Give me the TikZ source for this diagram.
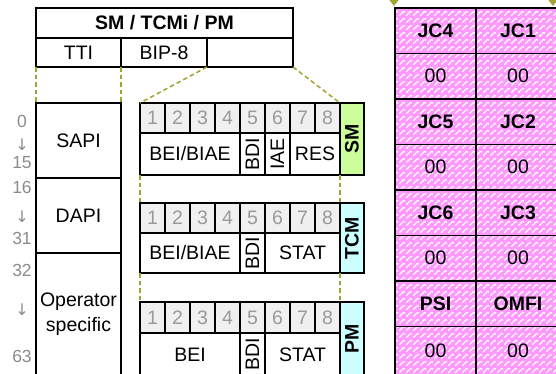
\documentclass[tikz,border=0pt]{standalone}
\usepackage{fontspec}
\setmainfont{Liberation Sans}
\newfontfamily\arrowfont{DejaVu Sans}
\usetikzlibrary{patterns}
\definecolor{linkolive}{HTML}{A3A332}
\definecolor{jcpink}{HTML}{FF99FF}
\definecolor{smgreen}{HTML}{CCFF99}
\definecolor{pmcyan}{HTML}{CCFFFF}
\definecolor{numgray}{HTML}{F0F0F0}
\definecolor{numtext}{HTML}{9A9A9A}
\definecolor{lefttext}{HTML}{8C8C8C}
\pgfdeclarepatternformonly{jcweave}{\pgfqpoint{-1pt}{-1pt}}{\pgfqpoint{8pt}{8pt}}{\pgfqpoint{7pt}{7pt}}{%
  \pgfsetlinewidth{1.1pt}%
  \pgfpathmoveto{\pgfqpoint{0.3pt}{0.3pt}}%
  \pgfpathlineto{\pgfqpoint{4.8pt}{4.8pt}}%
  \pgfpathmoveto{\pgfqpoint{4.8pt}{4.8pt}}%
  \pgfpathlineto{\pgfqpoint{6.0pt}{3.6pt}}%
  \pgfusepath{stroke}%
}
\newcommand\cellbox[7]{%
  \node[#6, minimum width={((#4)-(#2))*1pt}, minimum height={((#5)-(#3))*1pt}]
    (#1) at ({((#2)+(#4))/2},{((#3)+(#5))/2}) {#7};}
\begin{document}
\begin{tikzpicture}[x=1pt,y=-1pt,
  cell/.style={draw=black, line width=1.4pt, inner sep=0pt, outer sep=0pt,
    align=center, font=\fontsize{19.5}{25}\selectfont},
  boldcell/.style={cell, font=\fontsize{19.5}{25}\selectfont\bfseries},
  numcell/.style={cell, fill=numgray, text=numtext},
  smlabel/.style={boldcell, fill=smgreen},
  pmlabel/.style={boldcell, fill=pmcyan},
  jccell/.style={cell, preaction={fill=jcpink}, pattern=jcweave, pattern color=white},
  jcbold/.style={jccell, font=\fontsize{19.5}{25}\selectfont\bfseries},
  lnum/.style={inner sep=0pt, text=lefttext, font=\fontsize{17.5}{20}\selectfont},
  larrow/.style={inner sep=0pt, text=lefttext, font=\arrowfont\fontsize{16}{18}\selectfont},
  link/.style={draw=linkolive, line width=1.5pt, dash pattern=on 4.5pt off 3pt}]
\useasboundingbox (0,0) rectangle (556,373);
\fill[white] (0,0) rectangle (556,373);
% top header
\cellbox{title}{36}{8}{293}{38}{boldcell}{SM / TCMi / PM}
\cellbox{tti}{36}{38}{121}{67}{cell}{TTI}
\cellbox{bip}{121}{38}{207}{67}{cell}{BIP-8}
\cellbox{rsv}{207}{38}{293}{67}{cell}{}
% left column
\cellbox{sapi}{36}{103}{121}{178}{cell}{SAPI}
\cellbox{dapi}{36}{178}{121}{253}{cell}{DAPI}
\cellbox{opsp}{36}{253}{121}{376}{cell}{Operator\\specific}
\node[lnum] (l0) at (22,121) {0};
\node[larrow] (la1) at (22,145) {↓};
\node[lnum] (l15) at (22,163) {15};
\node[lnum] (l16) at (22,187) {16};
\node[larrow] (la2) at (22,217) {↓};
\node[lnum] (l31) at (22,238) {31};
\node[lnum] (l32) at (22,270) {32};
\node[larrow] (la3) at (22,310) {↓};
\node[lnum] (l63) at (22,356) {63};
% SM block
\foreach \k in {1,...,8} {\cellbox{sm\k}{140+25*(\k-1)}{103}{140+25*\k}{133}{numcell}{\k}}
\cellbox{smbei}{140}{133}{240}{175}{cell}{BEI/BIAE}
\cellbox{smbdi}{240}{133}{265}{175}{cell}{\rotatebox{90}{BDI}}
\cellbox{smiae}{265}{133}{290}{175}{cell}{\rotatebox{90}{IAE}}
\cellbox{smres}{290}{133}{340}{175}{cell}{RES}
\cellbox{smlab}{340}{103}{364}{175}{smlabel}{\rotatebox{90}{SM}}
% TCM block
\foreach \k in {1,...,8} {\cellbox{tcm\k}{140+25*(\k-1)}{203}{140+25*\k}{233}{numcell}{\k}}
\cellbox{tcmbei}{140}{233}{240}{273}{cell}{BEI/BIAE}
\cellbox{tcmbdi}{240}{233}{265}{273}{cell}{\rotatebox{90}{BDI}}
\cellbox{tcmstat}{265}{233}{340}{273}{cell}{STAT}
\cellbox{tcmlab}{340}{203}{364}{273}{pmlabel}{\rotatebox{90}{TCM}}
% PM block
\foreach \k in {1,...,8} {\cellbox{pm\k}{140+25*(\k-1)}{302}{140+25*\k}{333}{numcell}{\k}}
\cellbox{pmbei}{140}{333}{240}{376}{cell}{BEI}
\cellbox{pmbdi}{240}{333}{265}{376}{cell}{\rotatebox{90}{BDI}}
\cellbox{pmstat}{265}{333}{340}{376}{cell}{STAT}
\cellbox{pmlab}{340}{302}{364}{376}{pmlabel}{\rotatebox{90}{PM}}
% dashed connectors
\draw[link] (tti.south west) -- (sapi.north west);
\draw[link] (tti.south east) -- (sapi.north east);
\draw[link] (bip.south east) -- (sm1.north west);
\draw[link] (rsv.south east) -- (smlab.north west);
\draw[link] (smbei.south west) -- (tcm1.north west);
\draw[link] (smres.south east) -- (tcm8.north east);
\draw[link] (tcmbei.south west) -- (pm1.north west);
\draw[link] (tcmstat.south east) -- (pm8.north east);
% JC table
\cellbox{jc4}{395}{8}{476}{53.5}{jcbold}{JC4}
\cellbox{jc1}{476}{8}{560}{53.5}{jcbold}{JC1}
\cellbox{za}{395}{53.5}{476}{99}{jccell}{00}
\cellbox{zb}{476}{53.5}{560}{99}{jccell}{00}
\cellbox{jc5}{395}{99}{476}{144.5}{jcbold}{JC5}
\cellbox{jc2}{476}{99}{560}{144.5}{jcbold}{JC2}
\cellbox{zc}{395}{144.5}{476}{190}{jccell}{00}
\cellbox{zd}{476}{144.5}{560}{190}{jccell}{00}
\cellbox{jc6}{395}{190}{476}{235.5}{jcbold}{JC6}
\cellbox{jc3}{476}{190}{560}{235.5}{jcbold}{JC3}
\cellbox{ze}{395}{235.5}{476}{281}{jccell}{00}
\cellbox{zf}{476}{235.5}{560}{281}{jccell}{00}
\cellbox{psi}{395}{281}{476}{326.5}{jcbold}{PSI}
\cellbox{omfi}{476}{281}{560}{326.5}{jcbold}{OMFI}
\cellbox{zg}{395}{326.5}{476}{376}{jccell}{00}
\cellbox{zh}{476}{326.5}{560}{376}{jccell}{00}
% arrowheads entering the table from above
\fill[linkolive] (389,-0.5) -- (399,-0.5) -- (394,6) -- cycle;
\fill[linkolive] (548,-0.5) -- (558,-0.5) -- (553,6) -- cycle;
\end{tikzpicture}
\end{document}
